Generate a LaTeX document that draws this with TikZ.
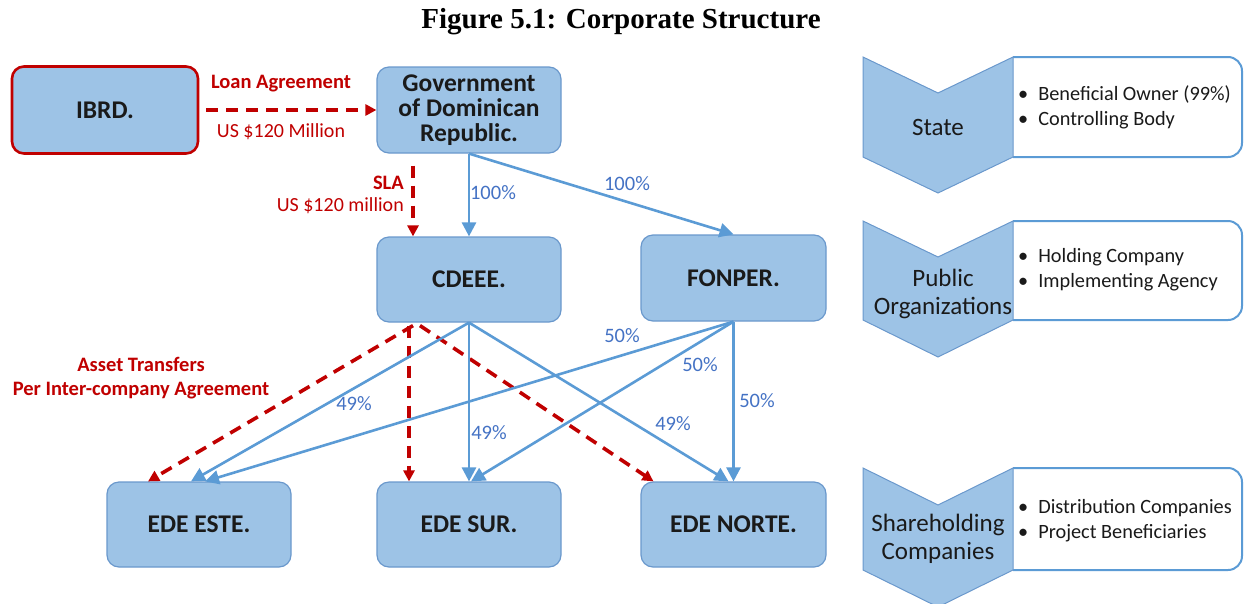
\documentclass[tikz,border=0pt]{standalone}
\usepackage{fontspec}
\setmainfont{Carlito}
\newfontfamily\titlefont{Liberation Serif}
\usetikzlibrary{arrows.meta}
\definecolor{boxfill}{HTML}{9DC3E6}
\definecolor{boxline}{HTML}{6A98CC}
\definecolor{lineblue}{HTML}{5B9BD5}
\definecolor{pctblue}{HTML}{4472C4}
\definecolor{darkred}{HTML}{C00000}
\definecolor{txt}{HTML}{1A1A1A}
\tikzset{
  box/.style={draw=boxline, line width=1.2pt, fill=boxfill, rounded corners=12pt,
    minimum width=184pt, minimum height=86pt, inner sep=0pt, align=center,
    font=\bfseries\fontsize{25.5}{25}\selectfont, text=txt},
  redbox/.style={box, draw=darkred, line width=2.6pt},
  own/.style={draw=lineblue, line width=2.6pt, -{Triangle[length=14pt,width=14pt]}},
  xfer/.style={draw=darkred, line width=3.6pt, dash pattern=on 12pt off 8pt,
    -{Triangle[length=11pt,width=11pt]}},
  pct/.style={text=pctblue, font=\fontsize{20.5}{22}\selectfont, inner sep=0pt},
  redlbl/.style={text=darkred, font=\fontsize{20}{24}\selectfont, inner sep=0pt, align=center},
  redbold/.style={text=darkred, font=\bfseries\fontsize{20.5}{24}\selectfont, inner sep=0pt, align=center},
  chev/.style={draw=boxline, line width=1pt, fill=boxfill},
  infobox/.style={draw=lineblue, line width=2pt, fill=white},
  chevtxt/.style={font=\fontsize{25}{28}\selectfont, align=center, text=txt, inner sep=0pt},
  bullets/.style={font=\fontsize{20.3}{25}\selectfont, text=txt, anchor=west, inner sep=0pt, align=left}
}
\begin{document}
\begin{tikzpicture}[x=1pt,y=-1pt]
\useasboundingbox (0,0) rectangle (1244,603);
% title
\node[font=\titlefont\bfseries\fontsize{29}{32}\selectfont] (title) at (621,22) {Figure 5.1: Corporate Structure};
% main boxes
\node[redbox, minimum width=186pt, minimum height=87pt] (ibrd) at (105,110) {IBRD.};
\node[box] (gov) at (469,110) {Government\\of Dominican\\Republic.};
\node[box, minimum height=85pt] (cdeee) at (469,279.5) {CDEEE.};
\node[box, minimum width=185pt] (fonper) at (733.5,278) {FONPER.};
\node[box, minimum height=85pt] (este) at (199,524.5) {EDE ESTE.};
\node[box, minimum height=85pt] (sur) at (469,524.5) {EDE SUR.};
\node[box, minimum width=185pt, minimum height=85pt] (norte) at (733.5,524.5) {EDE NORTE.};
% red transfers
\draw[xfer] ([xshift=7pt]ibrd.east) -- (gov.west);
\node[redbold] (loan) at (281,84) {Loan Agreement};
\node[redlbl] (loanamt) at (281,132) {US \$120 Million};
\draw[xfer] ([xshift=-56pt,yshift=-12pt]gov.south) -- ([xshift=-56pt]cdeee.north);
\node[redbold, anchor=east] (sla) at (404,183) {SLA};
\node[redlbl, anchor=east] (slaamt) at (404,206) {US \$120 million};
\draw[xfer] ([xshift=-56pt,yshift=-3pt]cdeee.south) -- ([xshift=-51pt]este.north);
\draw[xfer] ([xshift=-60pt,yshift=-3pt]cdeee.south) -- ([xshift=-60pt]sur.north);
\draw[xfer] ([xshift=-49pt,yshift=-3pt]cdeee.south) -- ([xshift=-80pt]norte.north);
\node[redbold] (asset) at (141,378) {Asset Transfers\\Per Inter-company Agreement};
% ownership
\draw[own] (gov.south) -- (cdeee.north);
\draw[own] (gov.south) -- (fonper.north);
\node[pct] (p1) at (493,193) {100\%};
\node[pct] (p2) at (627,184) {100\%};
\draw[own] (cdeee.south) -- ([xshift=-8pt]este.north);
\draw[own] (cdeee.south) -- (sur.north);
\draw[own] (cdeee.south) -- ([xshift=-5pt]norte.north);
\draw[own] (fonper.south) -- ([xshift=6pt]este.north);
\draw[own] (fonper.south) -- ([xshift=2pt]sur.north);
\draw[own] (fonper.south) -- (norte.north);
\node[pct] (p3) at (354,404) {49\%};
\node[pct] (p4) at (489,433) {49\%};
\node[pct] (p5) at (673,424) {49\%};
\node[pct] (p6) at (622,336) {50\%};
\node[pct] (p7) at (700,365) {50\%};
\node[pct] (p8) at (757,401) {50\%};
% right legend
\draw[infobox, rounded corners=14pt] (1013,157) -- (1242,157) -- (1242,57) -- (1013,57);
\draw[chev] (863,57) -- (938,93) -- (1013,57) -- (1013,157) -- (938,193) -- (863,157) -- cycle;
\node[chevtxt] (state) at (938,127) {State};
\node[bullets] (sb) at (1018,107) {\textbullet\hspace{10pt}Beneficial Owner (99\%)\\\textbullet\hspace{10pt}Controlling Body};
\draw[infobox, rounded corners=14pt] (1013,320) -- (1242,320) -- (1242,221) -- (1013,221);
\draw[chev] (863,221) -- (938,257) -- (1013,221) -- (1013,320) -- (938,357) -- (863,320) -- cycle;
\node[chevtxt] (pub) at (943,294) {Public\\Organizations};
\node[bullets] (pb) at (1018,270) {\textbullet\hspace{10pt}Holding Company\\\textbullet\hspace{10pt}Implementing Agency};
\draw[infobox, rounded corners=14pt] (1013,570) -- (1242,570) -- (1242,468) -- (1013,468);
\draw[chev] (863,468) -- (938,505) -- (1013,468) -- (1013,570) -- (938,607) -- (863,570) -- cycle;
\node[chevtxt] (share) at (938,539) {Shareholding\\Companies};
\node[bullets] (shb) at (1018,520.5) {\textbullet\hspace{10pt}Distribution Companies\\\textbullet\hspace{10pt}Project Beneficiaries};
\end{tikzpicture}
\end{document}
